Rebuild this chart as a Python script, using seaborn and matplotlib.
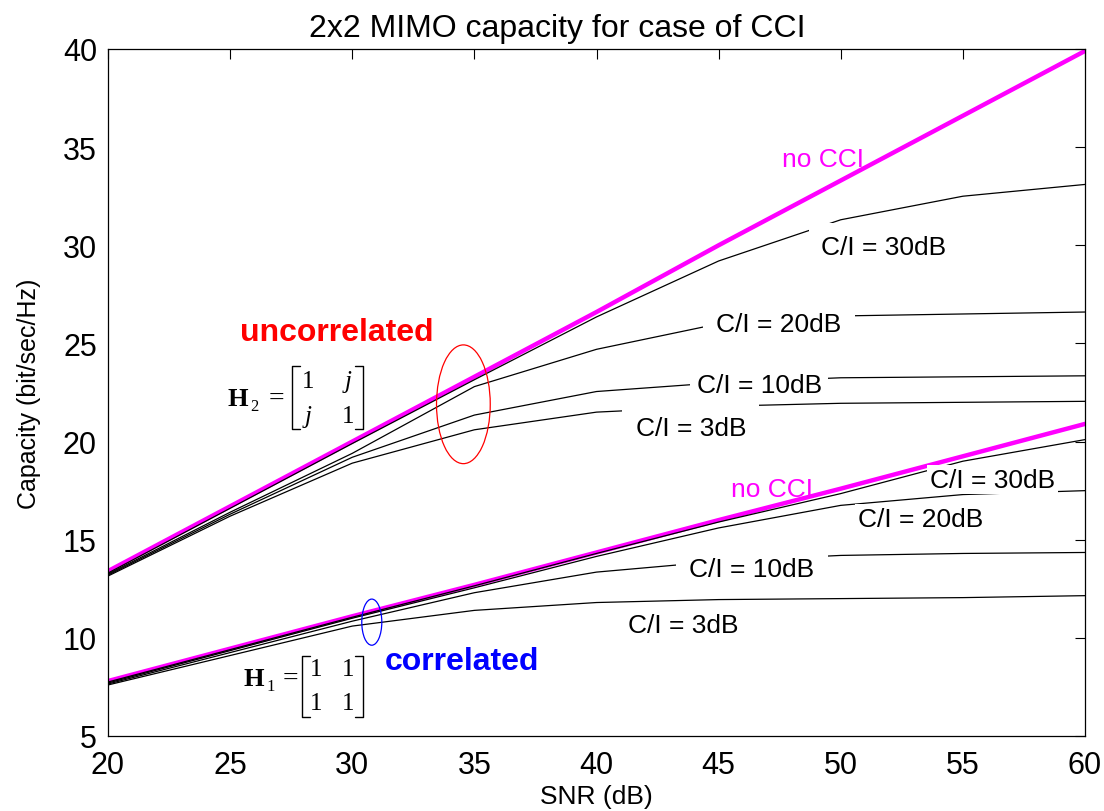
import matplotlib
matplotlib.use("Agg")
import matplotlib.pyplot as plt
from matplotlib.patches import Ellipse
from matplotlib.lines import Line2D
import numpy as np
import pandas as pd
import seaborn as sns

# SNR grid (dB)
snr = [20, 25, 30, 35, 40, 45, 50, 55, 60]

# uncorrelated channel H2
unc_no_cci = [13.4, 16.7, 20.0, 23.3, 26.6, 30.0, 33.3, 36.6, 39.9]
unc_ci30 = [13.3, 16.6, 19.9, 23.15, 26.35, 29.2, 31.3, 32.5, 33.1]
unc_ci20 = [13.25, 16.4, 19.4, 22.8, 24.7, 26.0, 26.4, 26.5, 26.6]
unc_ci10 = [13.2, 16.3, 19.2, 21.35, 22.55, 23.0, 23.25, 23.3, 23.35]
unc_ci3 = [13.15, 16.2, 18.9, 20.6, 21.5, 21.8, 21.95, 22.0, 22.05]

# correlated channel H1
cor_no_cci = [7.8, 9.45, 11.1, 12.7, 14.35, 16.0, 17.6, 19.25, 20.9]
cor_ci30 = [7.75, 9.4, 11.05, 12.65, 14.3, 15.9, 17.35, 19.0, 20.1]
cor_ci20 = [7.7, 9.35, 11.0, 12.55, 14.15, 15.6, 16.75, 17.3, 17.5]
cor_ci10 = [7.65, 9.25, 10.85, 12.3, 13.35, 13.9, 14.2, 14.3, 14.35]
cor_ci3 = [7.6, 9.1, 10.6, 11.4, 11.8, 11.95, 12.0, 12.05, 12.15]

H2_entries = [['1', 'j'], ['j', '1']]
H1_entries = [['1', '1'], ['1', '1']]

sns.set_style("white")
plt.rcParams['font.family'] = ['Liberation Sans', 'DejaVu Sans']
for k in ['text.color', 'axes.labelcolor', 'xtick.color', 'ytick.color', 'axes.edgecolor']:
    plt.rcParams[k] = 'black'

W, H = 1104, 812
fig = plt.figure(figsize=(W / 100, H / 100), dpi=100)
ax = fig.add_axes([108 / W, 1 - 737 / H, 977 / W, 687 / H])

magenta = '#ff00ff'
for vals in [unc_no_cci, cor_no_cci]:
    sns.lineplot(x=snr, y=vals, ax=ax, color=magenta, lw=3.2, zorder=2)
for vals in [unc_ci30, unc_ci20, unc_ci10, unc_ci3, cor_ci30, cor_ci20, cor_ci10, cor_ci3]:
    sns.lineplot(x=snr, y=vals, ax=ax, color='black', lw=0.9, zorder=3)

ax.set_xlim(20, 60)
ax.set_ylim(5, 40)
ax.set_xticks(range(20, 61, 5))
ax.set_yticks(range(5, 41, 5))
ax.tick_params(direction='in', top=True, right=True, length=7, width=0.8, labelsize=22)
ax.tick_params(axis='x', pad=10)
ax.tick_params(axis='y', pad=8)
for s in ax.spines.values():
    s.set_linewidth(0.9)

ax.set_title('2x2 MIMO capacity for case of CCI', fontsize=23, x=0.46, pad=9)
ax.set_xlabel('SNR (dB)', fontsize=19, labelpad=3)
ax.set_ylabel('Capacity (bit/sec/Hz)', fontsize=18, labelpad=16)


def label(x, y, s, pad=0.45, color='black', boxed=True):
    kw = dict(fontsize=19, va='center', color=color)
    if boxed:
        kw['bbox'] = dict(boxstyle='square,pad=%s' % pad, fc='white', ec='none')
        kw['zorder'] = 4
    else:
        kw['zorder'] = 5
    ax.text(x, y, s, **kw)


# upper group labels
label(47.6, 34.4, 'no CCI', color=magenta, boxed=False)
label(49.2, 29.9, 'C/I = 30dB')
label(44.9, 26.0, 'C/I = 20dB', pad=0.5)
label(44.1, 22.9, 'C/I = 10dB', pad=0.25)
label(41.6, 20.7, 'C/I = 3dB', pad=0.5)
# lower group labels
label(45.5, 17.6, 'no CCI', color=magenta, boxed=False)
label(53.65, 18.05, 'C/I = 30dB', pad=0.1)
label(50.7, 16.05, 'C/I = 20dB', pad=0.1)
label(43.8, 13.5, 'C/I = 10dB', pad=0.5)
label(41.3, 10.65, 'C/I = 3dB', pad=0.2)

ax.text(25.4, 25.6, 'uncorrelated', color='red', fontsize=23, fontweight='bold', va='center')
ax.text(31.35, 8.8, 'correlated', color='blue', fontsize=23, fontweight='bold', va='center')

ax.add_patch(Ellipse((34.55, 21.9), 2.2, 6.05, fill=False, ec='red', lw=0.9, zorder=6))
ax.add_patch(Ellipse((30.8, 10.8), 0.82, 2.35, fill=False, ec='blue', lw=0.9, zorder=6))


# matrix annotations, placed in figure pixels
def fp(x, y):
    return x / W, 1 - y / H


def matrix(name, sub, entries, hx, hy, eqx, bl, br, top, bot, cols, rows):
    serif = ['Liberation Serif', 'DejaVu Serif']
    fig.text(*fp(hx, hy), name, family=serif, fontweight='bold', fontsize=19,
             ha='left', va='center')
    fig.text(*fp(hx + 22, hy + 7), sub, family=serif, fontsize=12, ha='left', va='center')
    fig.text(*fp(eqx, hy - 1), '=', family=serif, fontsize=20, ha='left', va='center')
    for i, row in enumerate(entries):
        for j, s in enumerate(row):
            st = 'italic' if s == 'j' else 'normal'
            fig.text(*fp(cols[j], rows[i]), s, family=serif, style=st, fontsize=18,
                     ha='center', va='center')
    for x0, d in [(bl, 8), (br, -8)]:
        xs = [x0 + d, x0, x0, x0 + d]
        ys = [top, top, bot, bot]
        pts = [fp(a, b) for a, b in zip(xs, ys)]
        fig.add_artist(Line2D([p[0] for p in pts], [p[1] for p in pts],
                              transform=fig.transFigure, color='black', lw=1.0))


matrix('H', '2', H2_entries, 228, 400, 269, 292, 363, 367, 430, [308, 348], [382, 417])
matrix('H', '1', H1_entries, 244, 680, 283, 302, 363, 657, 718, [316, 348], [670, 704])

fig.savefig('out.png', dpi=100)
